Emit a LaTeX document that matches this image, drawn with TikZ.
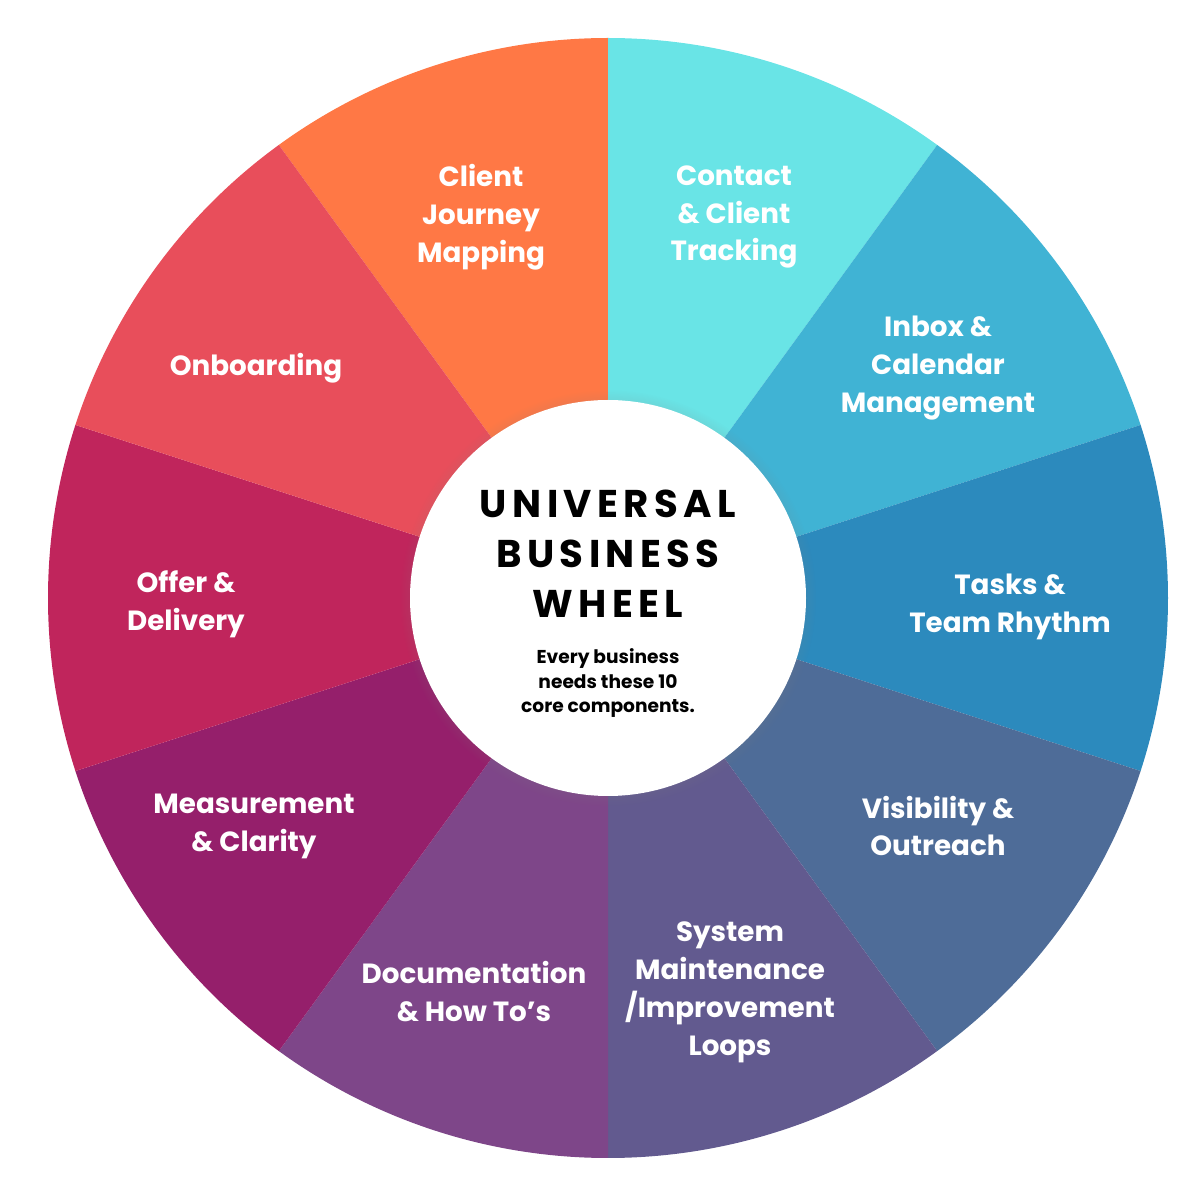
\documentclass[tikz,border=0pt]{standalone}
\usepackage{fontspec}
\setmainfont{Poppins}
\newfontfamily\titlefont[LetterSpace=14]{Poppins}
\usepackage{xcolor}
\usepackage{tikz}
\usetikzlibrary{positioning,shadows}

\definecolor{segjourney}{HTML}{FF7845}
\definecolor{segcontact}{HTML}{69E4E6}
\definecolor{seginbox}{HTML}{40B3D4}
\definecolor{segtasks}{HTML}{2C8ABD}
\definecolor{segvisibility}{HTML}{4E6C98}
\definecolor{segsystem}{HTML}{625A8F}
\definecolor{segdocs}{HTML}{7E4689}
\definecolor{segmeasure}{HTML}{951F6B}
\definecolor{segoffer}{HTML}{C0255C}
\definecolor{segonboard}{HTML}{E84E5B}

\begin{document}
\begin{tikzpicture}[seglabel/.style={text=white, align=center, font=\bfseries\fontsize{7.9}{10.8}\selectfont}]
		\useasboundingbox (0,0) rectangle (12,12);
		\coordinate (c) at (6.08,6.02);

		% wheel segments
		\fill[segjourney] (c) -- ++(90:5.6) arc (90:126:5.6) -- cycle;
		\fill[segcontact] (c) -- ++(54:5.6) arc (54:90:5.6) -- cycle;
		\fill[seginbox] (c) -- ++(18:5.6) arc (18:54:5.6) -- cycle;
		\fill[segtasks] (c) -- ++(-18:5.6) arc (-18:18:5.6) -- cycle;
		\fill[segvisibility] (c) -- ++(-54:5.6) arc (-54:-18:5.6) -- cycle;
		\fill[segsystem] (c) -- ++(-90:5.6) arc (-90:-54:5.6) -- cycle;
		\fill[segdocs] (c) -- ++(-126:5.6) arc (-126:-90:5.6) -- cycle;
		\fill[segmeasure] (c) -- ++(-162:5.6) arc (-162:-126:5.6) -- cycle;
		\fill[segoffer] (c) -- ++(162:5.6) arc (162:198:5.6) -- cycle;
		\fill[segonboard] (c) -- ++(126:5.6) arc (126:162:5.6) -- cycle;

		% hub
		\node[circle, fill=white, minimum size=3.96cm, inner sep=0pt,
			circular drop shadow={shadow xshift=0pt, shadow yshift=0pt, shadow scale=1.05, opacity=0.35}] (hub) at (c) {};
		\node[align=center, font=\titlefont\bfseries\fontsize{11}{14.2}\selectfont] (title) at ([yshift=4.4mm]hub.center) {UNIVERSAL\\BUSINESS\\WHEEL};
		\node[align=center, font=\bfseries\fontsize{5.3}{7.0}\selectfont, below=0.06cm of title] (subtitle) {Every business\\needs these 10\\core components.};

		% segment labels
		\node[seglabel] (journey) at (4.81,9.83) {Client\\Journey\\Mapping};
		\node[seglabel] (contact) at (7.34,9.83) {Contact\\\& Client\\Tracking};
		\node[seglabel] (inbox) at (9.38,8.32) {Inbox \&\\Calendar\\Management};
		\node[seglabel] (tasks) at (10.10,5.93) {Tasks \&\\Team Rhythm};
		\node[seglabel] (visibility) at (9.38,3.74) {Visibility \&\\Outreach};
		\node[seglabel] (system) at (7.30,2.08) {System\\Maintenance\\/Improvement\\Loops};
		\node[seglabel] (docs) at (4.74,2.08) {Documentation\\\& How To’s};
		\node[seglabel] (measure) at (2.54,3.74) {Measurement\\\& Clarity};
		\node[seglabel] (offer) at (1.86,5.96) {Offer \&\\Delivery};
		\node[seglabel] (onboard) at (2.56,8.32) {Onboarding};
	\end{tikzpicture}
\end{document}
